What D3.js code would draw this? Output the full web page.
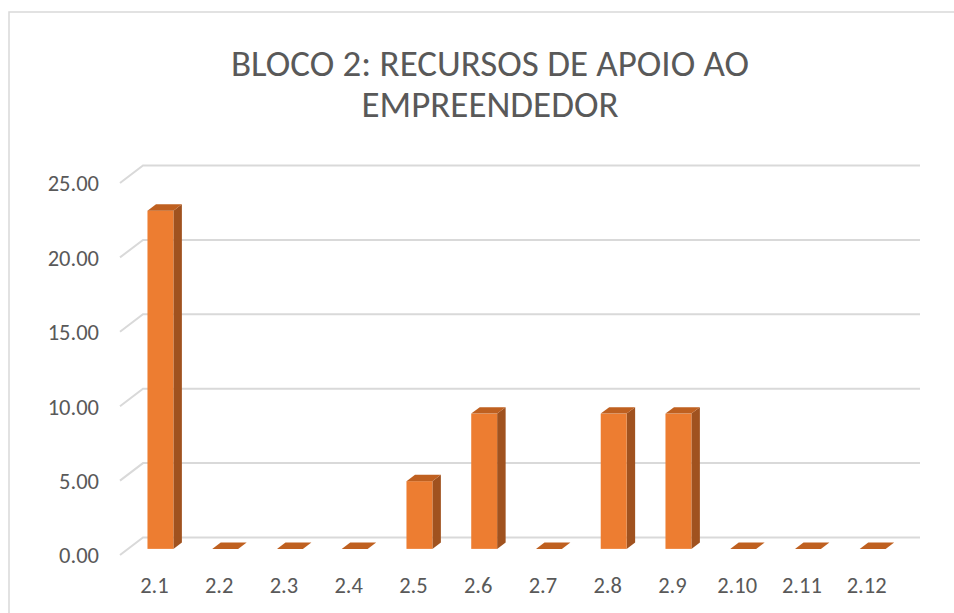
<!DOCTYPE html>
<html>
<head>
<meta charset="utf-8">
<script src="https://cdn.jsdelivr.net/npm/d3@7"></script>
<style>
  html, body { margin: 0; padding: 0; background: #fff; }
  svg { display: block; }
</style>
</head>
<body>
<svg id="chart" width="954" height="613"></svg>
<script>
const categories = ["2.1","2.2","2.3","2.4","2.5","2.6","2.7","2.8","2.9","2.10","2.11","2.12"];
const values = [22.73, 0, 0, 0, 4.55, 9.09, 0, 9.09, 9.09, 0, 0, 0];
const yTicks = [0, 5, 10, 15, 20, 25];
const titleLines = ["BLOCO 2: RECURSOS DE APOIO AO", "EMPREENDEDOR"];

const FONT = "Carlito, Calibri, Lato, 'Open Sans', sans-serif";
const TFONT = "Carlito, 'Calibri Light', Roboto, Lato, sans-serif";
const svg = d3.select("#chart");

// chart border
svg.append("rect").attr("x", 9).attr("y", 12).attr("width", 1000).attr("height", 700)
  .attr("fill", "none").attr("stroke", "#d9d9d9").attr("stroke-width", 1.5);

// depth offsets
const DX = 23, DY = -17.5;
const off = f => [DX * f, DY * f];
const F0 = 0.35, F1 = 0.72;

const x = d3.scaleBand().domain(categories).range([120, 897])
  .paddingInner(0.6).paddingOuter(0.3);
const y = d3.scaleLinear().domain([0, 25]).range([555, 183]);

// gridlines
const grid = svg.append("g");
yTicks.forEach(t => {
  const yf = y(t);
  grid.append("path")
    .attr("d", `M120,${yf} L${120 + DX},${yf + DY} L${897 + DX},${yf + DY}`)
    .attr("fill", "none").attr("stroke", "#d9d9d9").attr("stroke-width", 2);
});

// y axis labels
const yAxis = d3.axisLeft(y).tickValues(yTicks).tickFormat(d3.format(".2f")).tickSize(0).tickPadding(0);
const yg = svg.append("g").attr("transform", "translate(99,0)").call(yAxis);
yg.select(".domain").remove();
yg.selectAll("text").attr("font-family", FONT).attr("font-size", 22.5).attr("fill", "#595959")
  .attr("dy", "0.35em").attr("x", 0);

// x axis labels
const xAxis = d3.axisBottom(x).tickSize(0).tickPadding(0);
const xg = svg.append("g").attr("transform", "translate(2,585)").call(xAxis);
xg.select(".domain").remove();
xg.selectAll("text").attr("font-family", FONT).attr("font-size", 22.5).attr("fill", "#595959")
  .attr("dy", "0.35em").attr("y", 0);

// bars
const bars = svg.append("g");
categories.forEach((c, i) => {
  const v = values[i];
  const [ox0, oy0] = off(F0);
  const [ox1, oy1] = off(F1);
  const xl = x(c) + ox0, xr = x(c) + x.bandwidth() + ox0;
  const yb = y(0) + oy0, yt = y(v) + oy0;
  const ddx = ox1 - ox0, ddy = oy1 - oy0;
  if (v > 0) {
    bars.append("path")
      .attr("d", `M${xr},${yt} L${xr + ddx},${yt + ddy} L${xr + ddx},${yb + ddy} L${xr},${yb} Z`)
      .attr("fill", "#A0521F");
    bars.append("rect").attr("x", xl).attr("y", yt).attr("width", xr - xl).attr("height", yb - yt)
      .attr("fill", "#ED7D31");
  }
  bars.append("path")
    .attr("d", `M${xl},${yt} L${xr},${yt} L${xr + ddx},${yt + ddy} L${xl + ddx},${yt + ddy} Z`)
    .attr("fill", "#BF6020");
});

// title
const title = svg.append("g");
const titleWidths = [518, 257];
const titleY = [76, 117];
titleLines.forEach((s, i) => {
  title.append("text").attr("x", 490).attr("y", titleY[i]).attr("text-anchor", "middle")
    .attr("font-family", TFONT).attr("font-weight", 300).attr("fill", "#595959").attr("font-size", 36)
    .attr("textLength", titleWidths[i]).attr("lengthAdjust", "spacingAndGlyphs")
    .text(s);
});
</script>
</body>
</html>
